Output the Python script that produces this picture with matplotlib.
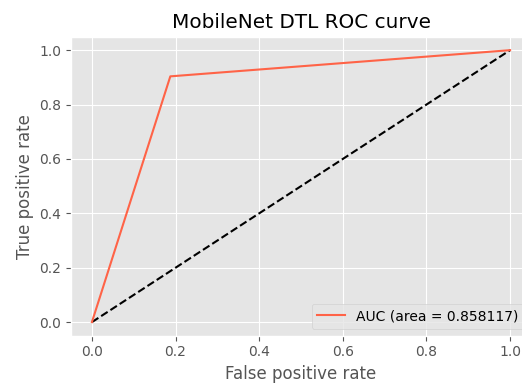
import matplotlib
matplotlib.use("Agg")
import matplotlib.pyplot as plt

plt.style.use("ggplot")

# ROC points
fpr = [0.0, 0.1875, 1.0]
tpr = [0.0, 0.903734, 1.0]
auc_value = 0.858117
chance = [0, 1]

fig = plt.figure(figsize=(5.22, 3.85), dpi=100)
ax = fig.add_axes([71 / 522, 0.128, 460 / 522, 0.777])

ax.plot(chance, chance, "k--")
ax.plot(fpr, tpr, color="tomato", label="AUC (area = %f)" % auc_value)
ax.set_xlabel("False positive rate")
ax.set_ylabel("True positive rate")
ax.set_title("MobileNet DTL ROC curve")
ax.legend(loc="lower right")

fig.savefig("out.png", dpi=100)
